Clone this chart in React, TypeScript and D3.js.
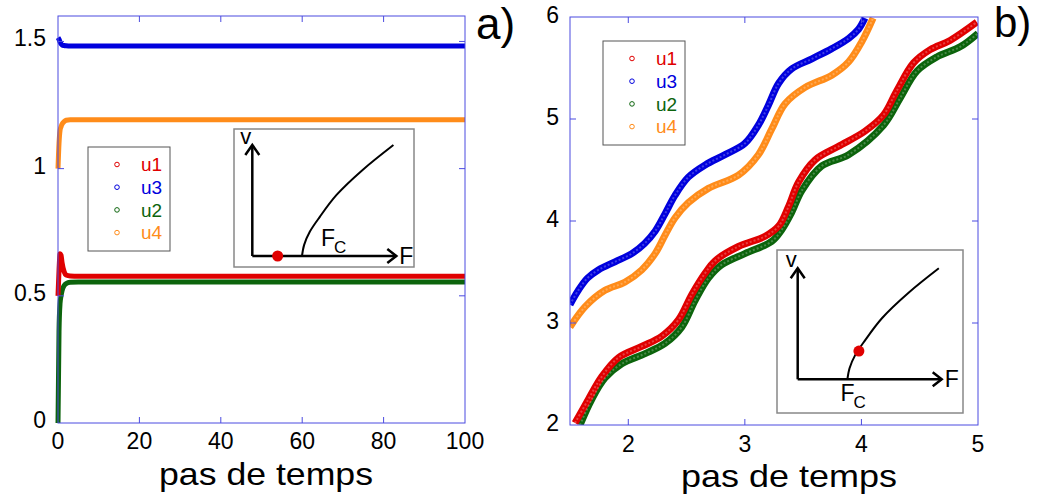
import React from "react";
import * as d3 from "d3";

// ---------- Panel a) data ----------
const stepsA = [0, 0.25, 0.5, 0.75, 1, 1.5, 2, 3, 5, 10, 20, 40, 60, 80, 100];
const u1A = [0.5, 0.6, 0.665, 0.66, 0.63, 0.595, 0.582, 0.578, 0.577, 0.577, 0.577, 0.577, 0.577, 0.577, 0.577];
const u3A = [1.515, 1.508, 1.498, 1.49, 1.486, 1.484, 1.483, 1.482, 1.482, 1.482, 1.482, 1.482, 1.482, 1.482, 1.482];
const u2A = [0.0, 0.36, 0.47, 0.5, 0.52, 0.54, 0.548, 0.553, 0.554, 0.554, 0.554, 0.554, 0.554, 0.554, 0.554];
const u4A = [1.0, 1.1, 1.15, 1.165, 1.175, 1.185, 1.19, 1.192, 1.192, 1.192, 1.192, 1.192, 1.192, 1.192, 1.192];
const xTicksA = [0, 20, 40, 60, 80, 100];
const yTicksA = [0, 0.5, 1, 1.5];

// ---------- Panel b) data ----------
const u3Bx = [1.5, 1.571, 1.65, 1.743, 1.886, 2.03, 2.14, 2.23, 2.315, 2.4, 2.515, 2.66, 2.83, 3.0, 3.116, 3.2, 3.29, 3.4, 3.575, 3.746, 3.89, 3.975, 4.03];
const u3By = [3.18, 3.32, 3.44, 3.52, 3.6, 3.68, 3.78, 3.9, 4.07, 4.25, 4.43, 4.55, 4.65, 4.76, 4.94, 5.13, 5.35, 5.49, 5.59, 5.69, 5.79, 5.88, 5.99];
const u4Bx = [1.5, 1.63, 1.8, 1.97, 2.115, 2.23, 2.315, 2.4, 2.515, 2.687, 2.945, 3.116, 3.23, 3.345, 3.517, 3.746, 3.89, 4.004, 4.1];
const u4By = [2.96, 3.16, 3.32, 3.4, 3.52, 3.68, 3.86, 4.03, 4.18, 4.32, 4.45, 4.65, 4.9, 5.15, 5.31, 5.43, 5.56, 5.76, 5.99];
const u1Bx = [1.543, 1.657, 1.77, 1.915, 2.115, 2.287, 2.43, 2.545, 2.66, 2.745, 2.945, 3.174, 3.29, 3.374, 3.46, 3.603, 3.8, 4.03, 4.19, 4.3, 4.447, 4.59, 4.76, 4.99];
const u1By = [2.02, 2.25, 2.47, 2.66, 2.77, 2.87, 3.03, 3.28, 3.49, 3.61, 3.75, 3.85, 3.95, 4.14, 4.38, 4.6, 4.73, 4.88, 5.04, 5.27, 5.55, 5.68, 5.77, 5.95];
const u2Bx = [1.586, 1.686, 1.8, 1.944, 2.144, 2.315, 2.459, 2.573, 2.687, 2.8, 3.0, 3.23, 3.32, 3.4, 3.49, 3.66, 3.89, 4.19, 4.33, 4.476, 4.65, 4.85, 5.0];
const u2By = [2.0, 2.25, 2.46, 2.6, 2.7, 2.8, 2.96, 3.22, 3.44, 3.57, 3.68, 3.8, 3.92, 4.08, 4.3, 4.54, 4.65, 4.94, 5.2, 5.47, 5.61, 5.71, 5.84];
const xTicksB = [2, 3, 4, 5];
const yTicksB = [2, 3, 4, 5, 6];

// ---------- Legend / insets ----------
const legendNames = ["u1", "u3", "u2", "u4"];
const insetCurveF = [0.345, 0.36, 0.4, 0.47, 0.585, 0.77, 0.98];
const insetCurveV = [0, 0.1, 0.22, 0.355, 0.55, 0.78, 1.0];

const COLORS: Record<string, string> = {
  u1: "#e00000",
  u3: "#0000dd",
  u2: "#0c640c",
  u4: "#ff8c1a",
};
const AXIS = "#4b4be0";
const FONT = "'Liberation Sans', Arial, sans-serif";

function zip(xs: number[], ys: number[]): [number, number][] {
  return xs.map((x, i) => [x, ys[i]]);
}

function Legend({ x, y }: { x: number; y: number }) {
  return (
    <g transform={`translate(${x},${y})`}>
      <rect x={0} y={0} width={82} height={104} fill="#fff" stroke="#555" strokeWidth={1} />
      {legendNames.map((n, i) => (
        <g key={n} transform={`translate(0,${17.5 + i * 22.7})`}>
          <circle cx={29} cy={0} r={2.3} fill="none" stroke={COLORS[n]} strokeWidth={1} />
          <text x={53} y={0} dy="0.35em" fontSize={19} fill={COLORS[n]} fontFamily={FONT}>
            {n}
          </text>
        </g>
      ))}
    </g>
  );
}

function Inset({
  box,
  ox,
  oy,
  dotF,
  dotV,
  fcBelow,
}: {
  box: [number, number, number, number];
  ox: number;
  oy: number;
  dotF: number;
  dotV: number;
  fcBelow: boolean;
}) {
  const fs = d3.scaleLinear().domain([0, 1]).range([ox, ox + 144]);
  const vs = d3.scaleLinear().domain([0, 1]).range([oy, oy - 111]);
  const line = d3
    .line<[number, number]>()
    .x((d) => fs(d[0]))
    .y((d) => vs(d[1]))
    .curve(d3.curveMonotoneY);
  const curve = zip(insetCurveF, insetCurveV);
  const tipX = fs(1);
  const tipY = vs(1);
  const fcX = fcBelow ? fs(insetCurveF[0]) - 7 : fs(insetCurveF[0]) + 19;
  const fcY = fcBelow ? oy + 22 : oy - 10;
  return (
    <g>
      <rect x={box[0]} y={box[1]} width={box[2]} height={box[3]} fill="#fff" stroke="#888" strokeWidth={1.5} />
      <path d={line(curve) || ""} fill="none" stroke="#000" strokeWidth={2} />
      <line x1={ox} y1={oy} x2={tipX} y2={oy} stroke="#000" strokeWidth={2.5} />
      <line x1={ox} y1={oy} x2={ox} y2={tipY} stroke="#000" strokeWidth={2.5} />
      <path d={`M${tipX - 9},${oy - 7} L${tipX},${oy} L${tipX - 9},${oy + 7}`} fill="none" stroke="#000" strokeWidth={2.5} />
      <path d={`M${ox - 7},${tipY + 10} L${ox},${tipY} L${ox + 7},${tipY + 10}`} fill="none" stroke="#000" strokeWidth={2.5} />
      <circle cx={fs(dotF)} cy={vs(dotV)} r={5.5} fill="#e00000" />
      <text x={ox - 12} y={tipY - 1} fontSize={22} fontFamily={FONT}>v</text>
      <text x={tipX + 3} y={oy + 8} fontSize={23} fontFamily={FONT}>F</text>
      <text x={fcX} y={fcY} fontSize={23} fontFamily={FONT}>
        F
        <tspan fontSize={17} dx={-1} dy={7}>C</tspan>
      </text>
    </g>
  );
}

export default function App() {
  // Panel a
  const xA = d3.scaleLinear().domain([0, 100]).range([58, 465]);
  const yA = d3.scaleLinear().domain([0, 1.6]).range([423, 16]);
  const lineA = d3
    .line<[number, number]>()
    .x((d) => xA(d[0]))
    .y((d) => yA(d[1]))
    .curve(d3.curveMonotoneX);
  const seriesA: [string, number[]][] = [
    ["u2", u2A],
    ["u1", u1A],
    ["u4", u4A],
    ["u3", u3A],
  ];

  // Panel b
  const xB = d3.scaleLinear().domain([1.5, 5]).range([570, 978]);
  const yB = d3.scaleLinear().domain([2, 6]).range([425, 17]);
  const lineB = d3
    .line<[number, number]>()
    .x((d) => xB(d[0]))
    .y((d) => yB(d[1]))
    .curve(d3.curveCatmullRom.alpha(0.5));
  const seriesB: [string, number[], number[]][] = [
    ["u2", u2Bx, u2By],
    ["u1", u1Bx, u1By],
    ["u4", u4Bx, u4By],
    ["u3", u3Bx, u3By],
  ];

  const [ax0, ax1] = xA.range();
  const [ay0, ay1] = yA.range();
  const [bx0, bx1] = xB.range();
  const [by0, by1] = yB.range();
  const TL = 6;

  return (
    <svg
      width={1041}
      height={496}
      style={{ position: "absolute", left: 0, top: 0, background: "#fff" }}
      fontFamily={FONT}
    >
      <defs>
        <clipPath id="clipB">
          <rect x={bx0} y={by1} width={bx1 - bx0} height={by0 - by1} />
        </clipPath>
      </defs>
      <rect x={0} y={0} width={1041} height={496} fill="#fff" />

      {/* ---------------- Panel a ---------------- */}
      {seriesA.map(([n, ys]) => (
        <path key={n} d={lineA(zip(stepsA, ys)) || ""} fill="none" stroke={COLORS[n]} strokeWidth={5} strokeLinejoin="round" />
      ))}
      <rect x={ax0} y={ay1} width={ax1 - ax0} height={ay0 - ay1} fill="none" stroke={AXIS} strokeWidth={1} />
      {xTicksA.slice(1, -1).map((t) => (
        <g key={t}>
          <line x1={xA(t)} x2={xA(t)} y1={ay0} y2={ay0 - TL} stroke={AXIS} />
          <line x1={xA(t)} x2={xA(t)} y1={ay1} y2={ay1 + TL} stroke={AXIS} />
        </g>
      ))}
      {yTicksA.slice(1).map((t) => (
        <g key={t}>
          <line x1={ax0} x2={ax0 + TL} y1={yA(t)} y2={yA(t)} stroke={AXIS} />
          <line x1={ax1} x2={ax1 - TL} y1={yA(t)} y2={yA(t)} stroke={AXIS} />
        </g>
      ))}
      {xTicksA.map((t) => (
        <text key={t} x={xA(t)} y={441} dy="0.35em" textAnchor="middle" fontSize={23}>
          {t}
        </text>
      ))}
      {yTicksA.map((t) => (
        <text key={t} x={46} y={yA(t) - 3} dy="0.35em" textAnchor="end" fontSize={23}>
          {t}
        </text>
      ))}
      <text x={266} y={485} textAnchor="middle" fontSize={32} textLength={214} lengthAdjust="spacingAndGlyphs">
        pas de temps
      </text>
      <text x={476} y={39} fontSize={44}>a)</text>
      <Legend x={88} y={147} />
      <Inset box={[234, 129, 180, 138]} ox={252.3} oy={256} dotF={0.176} dotV={0} fcBelow={false} />

      {/* ---------------- Panel b ---------------- */}
      <g clipPath="url(#clipB)">
        {seriesB.map(([n, xs, ys]) => (
          <path key={n} d={lineB(zip(xs, ys)) || ""} fill="none" stroke={COLORS[n]} strokeWidth={7} strokeLinejoin="round" />
        ))}
        {seriesB.map(([n, xs, ys]) => (
          <path key={n + "i"} d={lineB(zip(xs, ys)) || ""} fill="none" stroke="#fff" strokeOpacity={0.25} strokeWidth={2} strokeDasharray="2 2" />
        ))}
      </g>
      <rect x={bx0} y={by1} width={bx1 - bx0} height={by0 - by1} fill="none" stroke={AXIS} strokeWidth={1} />
      {xTicksB.slice(0, -1).map((t) => (
        <g key={t}>
          <line x1={xB(t)} x2={xB(t)} y1={by0} y2={by0 - TL} stroke={AXIS} />
          <line x1={xB(t)} x2={xB(t)} y1={by1} y2={by1 + TL} stroke={AXIS} />
        </g>
      ))}
      {yTicksB.slice(1, -1).map((t) => (
        <g key={t}>
          <line x1={bx0} x2={bx0 + TL} y1={yB(t)} y2={yB(t)} stroke={AXIS} />
          <line x1={bx1} x2={bx1 - TL} y1={yB(t)} y2={yB(t)} stroke={AXIS} />
        </g>
      ))}
      {xTicksB.map((t) => (
        <text key={t} x={xB(t)} y={444} dy="0.35em" textAnchor="middle" fontSize={23}>
          {t}
        </text>
      ))}
      {yTicksB.map((t) => (
        <text key={t} x={559} y={yB(t) - 2} dy="0.35em" textAnchor="end" fontSize={23}>
          {t}
        </text>
      ))}
      <text x={789} y={487} textAnchor="middle" fontSize={32} textLength={216} lengthAdjust="spacingAndGlyphs">
        pas de temps
      </text>
      <text x={994} y={37} fontSize={42}>b)</text>
      <Legend x={603} y={41} />
      <Inset box={[777, 250, 186, 163]} ox={797.7} oy={379.3} dotF={0.425} dotV={0.254} fcBelow={true} />
    </svg>
  );
}
